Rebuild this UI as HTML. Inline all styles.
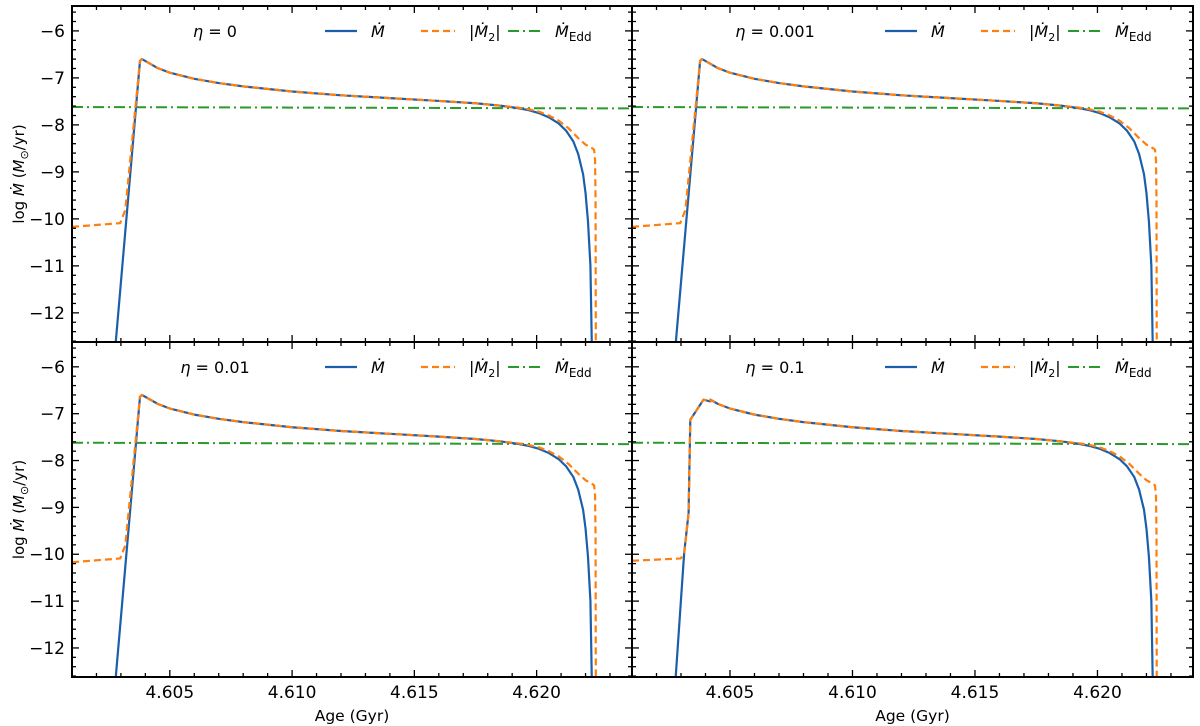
<!DOCTYPE html>
<html><head><meta charset="utf-8">
<style>
html,body{margin:0;padding:0;background:#fff;}
svg{display:block;font-family:"DejaVu Sans","Liberation Sans",sans-serif;}
</style></head>
<body>
<svg id="chart" width="1200" height="726" viewBox="0 0 1200 726" xmlns="http://www.w3.org/2000/svg"></svg>
<script>
// ---- data ----
const panelLabels = ["η = 0", "η = 0.001", "η = 0.01", "η = 0.1"];
const xTicks = [4.605, 4.610, 4.615, 4.620];
const xTickLabels = ["4.605", "4.610", "4.615", "4.620"];
const yTicks = [-12, -11, -10, -9, -8, -7, -6];
const yTickLabels = ["−12", "−11", "−10", "−9", "−8", "−7", "−6"];

// decay part shared by all panels
const decayAge = [4.6042, 4.6045, 4.605, 4.606, 4.607, 4.608, 4.610, 4.612, 4.614, 4.616, 4.6175, 4.6185, 4.6192, 4.6197, 4.6201, 4.6205, 4.6209, 4.6212, 4.6215, 4.6217, 4.6219, 4.6220, 4.6221, 4.6222, 4.62226];
const decayMdot = [-6.70, -6.79, -6.89, -7.02, -7.11, -7.18, -7.29, -7.37, -7.43, -7.49, -7.54, -7.59, -7.64, -7.69, -7.75, -7.84, -7.97, -8.12, -8.35, -8.62, -9.05, -9.45, -10.05, -11.0, -12.8];
const tailAge = [4.6192, 4.6197, 4.6201, 4.6205, 4.6209, 4.6213, 4.6217, 4.6220, 4.62225, 4.62235, 4.62239, 4.62241, 4.62242];
const tailM2 = [-7.63, -7.67, -7.72, -7.80, -7.91, -8.07, -8.28, -8.42, -8.49, -8.53, -8.75, -9.6, -12.8];

// rise part, eta = 0 / 0.001 / 0.01
const riseAge = [4.60276, 4.60378, 4.60386, 4.6042];
const riseMdot = [-12.8, -6.64, -6.60, -6.70];
const riseM2Age = [4.601, 4.60297, 4.60318, 4.60378, 4.60386, 4.6042];
const riseM2 = [-10.17, -10.09, -9.81, -6.64, -6.60, -6.70];
// rise part, eta = 0.1
const rise01Age = [4.60276, 4.60313, 4.60331, 4.60338, 4.60392, 4.6042];
const rise01Mdot = [-12.8, -9.97, -9.12, -7.13, -6.70, -6.74];
const rise01M2Age = [4.601, 4.60298, 4.60313, 4.60331, 4.60338, 4.60392, 4.6042];
const rise01M2 = [-10.14, -10.09, -10.0, -9.12, -7.13, -6.70, -6.74];

const eddAge = [4.601, 4.6239];
const eddMdot = [-7.62, -7.65];

// ---- layout ----
const NS = "http://www.w3.org/2000/svg";
const svg = document.getElementById("chart");
const XMIN = 4.601, XMAX = 4.6239, YTOP = -5.47, YBOT = -12.62;
const cols = [[72, 632], [632, 1193]];
const rows = [[6, 342], [342, 677]];
const BLUE = "#1a5fac", ORANGE = "#ff7f0e", GREEN = "#2a9a2a";

function mk(tag, attrs, parent) {
  const e = document.createElementNS(NS, tag);
  for (const k in attrs) e.setAttribute(k, attrs[k]);
  (parent || svg).appendChild(e);
  return e;
}

for (let p = 0; p < 4; p++) {
  const [x0, x1] = cols[p % 2];
  const [y0, y1] = rows[Math.floor(p / 2)];
  const sx = v => x0 + (v - XMIN) / (XMAX - XMIN) * (x1 - x0);
  const sy = v => y0 + (YTOP - v) / (YTOP - YBOT) * (y1 - y0);
  const g = mk("g", {});
  
  
  const cp = mk("clipPath", { id: "cp" + p }, g);
  mk("rect", { x: x0, y: y0, width: x1 - x0, height: y1 - y0 }, cp);
  const plot = mk("g", { "clip-path": "url(#cp" + p + ")" }, g);

  const path = (xs, ys) => xs.map((v, i) => (i ? "L" : "M") + sx(v).toFixed(2) + "," + sy(ys[i]).toFixed(2)).join(" ");
  const eta01 = p === 3;
  const mA = (eta01 ? rise01Age : riseAge).concat(decayAge);
  const mY = (eta01 ? rise01Mdot : riseMdot).concat(decayMdot);
  const m2A = (eta01 ? rise01M2Age : riseM2Age).concat(decayAge.filter(a => a < 4.6192), tailAge);
  const m2Y = (eta01 ? rise01M2 : riseM2).concat(decayMdot.filter((v, i) => decayAge[i] < 4.6192), tailM2);

  const edd = mk("path", { d: path(eddAge, eddMdot), fill: "none", stroke: GREEN, "stroke-width": 2, "stroke-dasharray": "11,4,2,4" }, plot);
  
  
  const bl = mk("path", { d: path(mA, mY), fill: "none", stroke: BLUE, "stroke-width": 2.2, "stroke-linejoin": "round" }, plot);
  
  
  const or = mk("path", { d: path(m2A, m2Y), fill: "none", stroke: ORANGE, "stroke-width": 2.2, "stroke-dasharray": "7,4", "stroke-linejoin": "round" }, plot);
  
  

  // ticks
  const tk = mk("g", { stroke: "#000", "stroke-width": 1.3 }, g);
  
  
  for (let i = 4601; i <= 4623; i++) {
    const v = i / 1000, X = sx(v), L = (i % 5 === 0) ? 7 : 4;
    mk("line", { x1: X, x2: X, y1: y1, y2: y1 - L }, tk);
    mk("line", { x1: X, x2: X, y1: y0, y2: y0 + L }, tk);
  }
  for (let i = -63; i <= -28; i++) {
    const v = i / 5, Y = sy(v), L = (i % 5 === 0) ? 7 : 4;
    if (Y < y0 || Y > y1) continue;
    mk("line", { x1: x0, x2: x0 + L, y1: Y, y2: Y }, tk);
    mk("line", { x1: x1, x2: x1 - L, y1: Y, y2: Y }, tk);
  }
  mk("rect", { x: x0, y: y0, width: x1 - x0, height: y1 - y0, fill: "none", stroke: "#000", "stroke-width": 2 }, g);

  if (p % 2 === 0) {
    yTicks.forEach((v, i) => {
      const t = mk("text", { x: x0 - 7, y: sy(v) + 6, "text-anchor": "end", "font-size": 17 }, g);
      t.textContent = yTickLabels[i];
      
      
    });
    const yl = mk("text", { transform: "translate(24," + ((y0 + y1) / 2) + ") rotate(-90)", "text-anchor": "middle", "font-size": 15 }, g);
    
    
    yl.innerHTML = 'log <tspan font-style="italic">Ṁ</tspan> (<tspan font-style="italic">M</tspan><tspan font-size="11" dy="4">⊙</tspan><tspan dy="-4">/yr)</tspan>';
  }
  if (p >= 2) {
    xTicks.forEach((v, i) => {
      const t = mk("text", { x: sx(v), y: y1 + 21, "text-anchor": "middle", "font-size": 17 }, g);
      t.textContent = xTickLabels[i];
      
      
    });
    const xl = mk("text", { x: (x0 + x1) / 2, y: 721, "text-anchor": "middle", "font-size": 15.5 }, g);
    xl.textContent = "Age (Gyr)";
    
    
  }

  // legend
  const lg = mk("g", { "font-size": 16 }, g);
  
  
  const ly = y0 + 25;
  const et = mk("text", { x: x0 + 143, y: ly + 6, "text-anchor": "middle" }, lg);
  et.innerHTML = '<tspan font-style="italic">η</tspan>' + panelLabels[p].slice(1);
  
  
  mk("line", { x1: x0 + 253, x2: x0 + 285, y1: ly, y2: ly, stroke: BLUE, "stroke-width": 2.2 }, lg);
  const t1 = mk("text", { x: x0 + 299, y: ly + 6, "font-style": "italic" }, lg);
  t1.textContent = "Ṁ";
  mk("line", { x1: x0 + 349, x2: x0 + 383, y1: ly, y2: ly, stroke: ORANGE, "stroke-width": 2.2, "stroke-dasharray": "7,4" }, lg);
  const t2 = mk("text", { x: x0 + 397, y: ly + 6 }, lg);
  t2.innerHTML = '|<tspan font-style="italic">Ṁ</tspan><tspan font-size="11" dy="4">2</tspan><tspan dy="-4">|</tspan>';
  mk("line", { x1: x0 + 436, x2: x0 + 469, y1: ly, y2: ly, stroke: GREEN, "stroke-width": 2, "stroke-dasharray": "11,4,2,4" }, lg);
  const t3 = mk("text", { x: x0 + 483, y: ly + 6 }, lg);
  t3.innerHTML = '<tspan font-style="italic">Ṁ</tspan><tspan font-size="12" dy="4">Edd</tspan>';
}
</script>
</body></html>
